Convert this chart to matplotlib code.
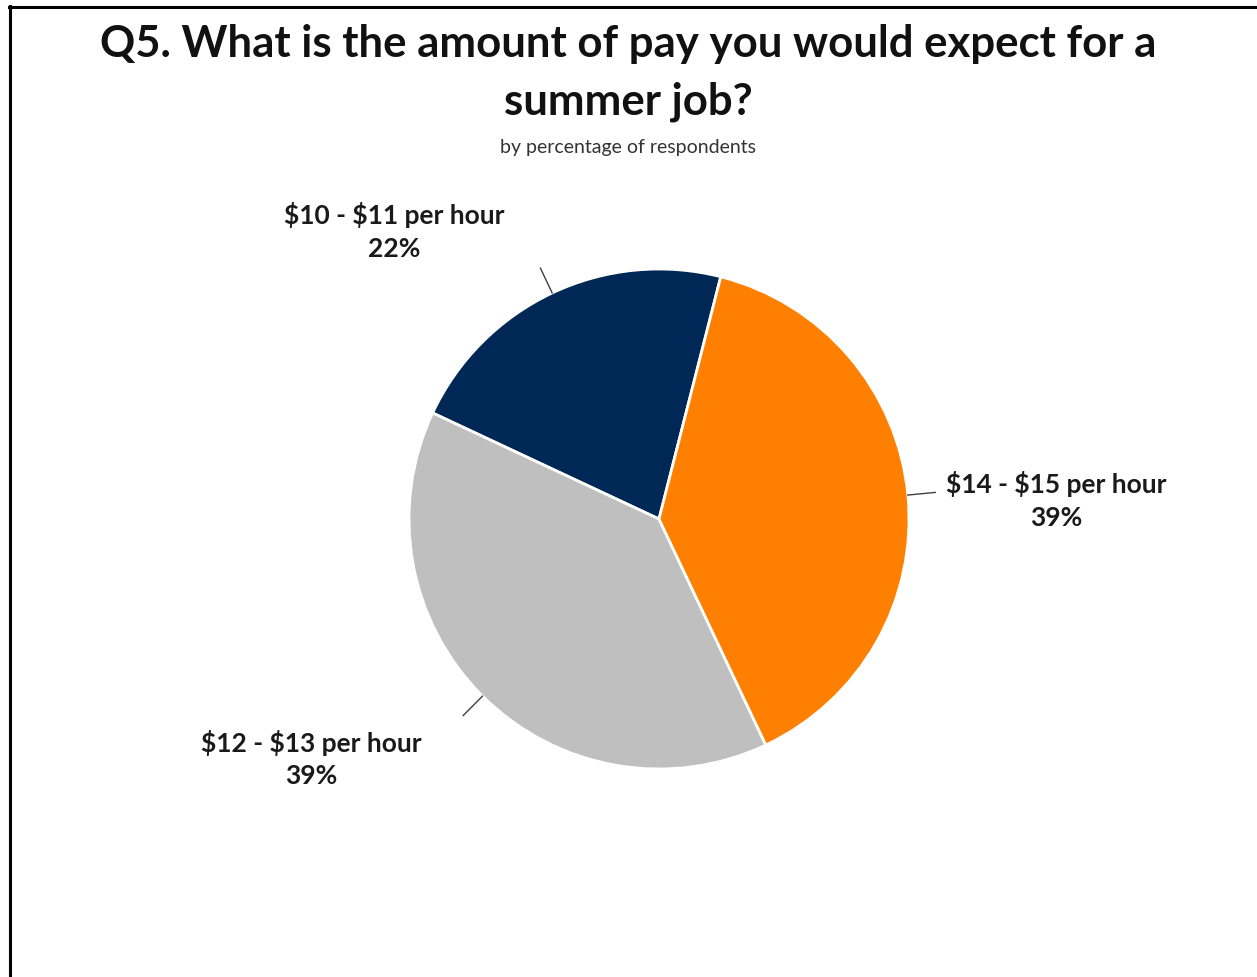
import numpy as np
import matplotlib
matplotlib.use("Agg")
import matplotlib.pyplot as plt
from matplotlib.lines import Line2D

# data
categories = ["$10 - $11 per hour", "$12 - $13 per hour", "$14 - $15 per hour"]
shares = [22, 39, 39]
colors = ["#002856", "#BFBFBF", "#FF8000"]
# label text positions (data units of the pie axes, radius = 1)
label_pos = [(-1.06, 1.15), (-1.39, -0.96), (1.59, 0.075)]

W, H = 1257, 977
fig = plt.figure(figsize=(W / 100, H / 100), dpi=100)
fig.patch.set_facecolor("white")

font = "Lato"

# pie axes: centre at (659, 519) px, radius 250 px
cx, cy, r = 659, 519, 250
ax = fig.add_axes([(cx - r) / W, (H - cy - r) / H, 2 * r / W, 2 * r / H])
wedges, _ = ax.pie(shares, colors=colors, startangle=75.7, counterclock=True,
                   wedgeprops=dict(edgecolor="white", linewidth=2))
ax.set_xlim(-1, 1)
ax.set_ylim(-1, 1)
ax.set_aspect("equal")

for w, cat, val, (tx, ty) in zip(wedges, categories, shares, label_pos):
    mid = np.deg2rad((w.theta1 + w.theta2) / 2)
    ax.plot([np.cos(mid), 1.11 * np.cos(mid)], [np.sin(mid), 1.11 * np.sin(mid)],
            color="#404040", lw=1, clip_on=False)
    ax.text(tx, ty, f"{cat}\n{val}%", ha="center", va="center", fontsize=19,
            fontweight="bold", family=font, color="#1a1a1a", linespacing=1.45,
            parse_math=False)

# title & subtitle
fig.text(0.5, 1 - 73 / H, "Q5. What is the amount of pay you would expect for a\nsummer job?",
         ha="center", va="center", fontsize=31.5, fontweight="bold", family=font,
         color="#111111", linespacing=1.5)
fig.text(0.5, 1 - 147 / H, "by percentage of respondents", ha="center", va="center",
         fontsize=14, family=font, color="#333333")

# frame lines (top and left only)
fig.add_artist(Line2D([9 / W, 1], [1 - 7 / H, 1 - 7 / H], color="black", lw=2.2))
fig.add_artist(Line2D([10 / W, 10 / W], [0, 1 - 6 / H], color="black", lw=2.2))

fig.savefig("out.png", dpi=100, facecolor="white")
